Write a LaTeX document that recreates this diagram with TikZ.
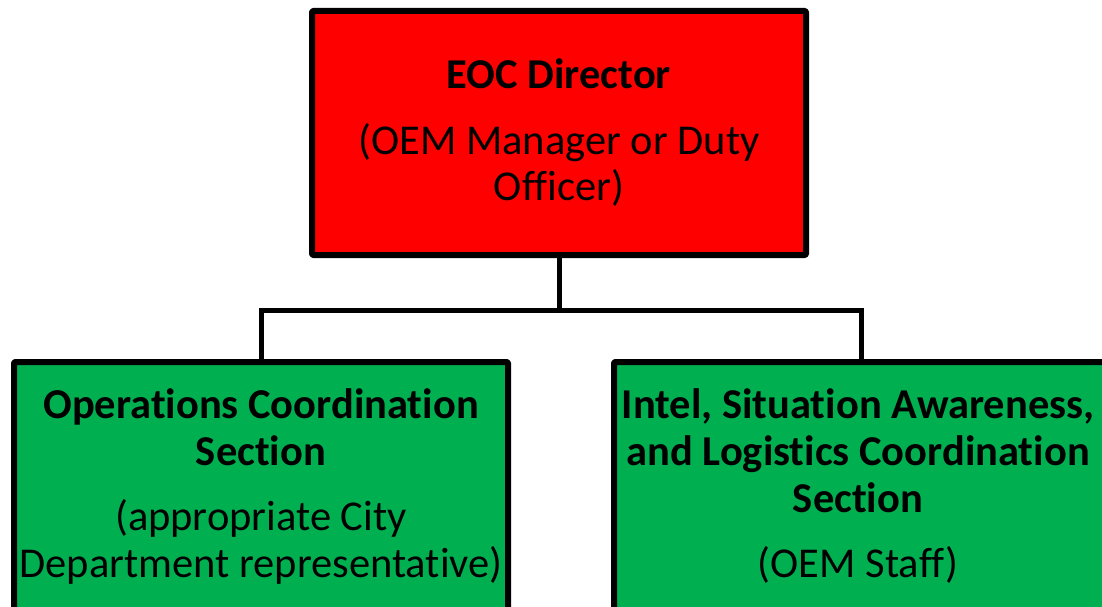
\documentclass[tikz,border=0pt]{standalone}
\usepackage{fontspec}
\setmainfont{Carlito}[Ligatures=NoCommon]
\definecolor{boxred}{HTML}{FF0000}
\definecolor{boxgreen}{HTML}{00B050}
\begin{document}
\begin{tikzpicture}[x=1pt,y=-1pt,
  box/.style={draw=black,line width=6pt,line join=round,rounded corners=1pt,inner sep=0pt,minimum width=494pt},
  lbl/.style={anchor=base,inner sep=0pt,font=\fontsize{42.5}{50}\selectfont},
  blbl/.style={lbl,font=\fontsize{42.5}{50}\selectfont\bfseries},
  conn/.style={draw=black,line width=5pt}]
\useasboundingbox (0,0) rectangle (1102,607);
\clip (0,0) rectangle (1102,607);
\node[box,fill=boxred,minimum height=244pt] (dir) at (559,133) {};
\node[box,fill=boxgreen,minimum height=300pt,anchor=north] (ops) at (261,359) {};
\node[box,fill=boxgreen,minimum height=300pt,anchor=north] (intel) at (861,359) {};
\coordinate (jn) at (559,310);
\draw[conn] (dir.south) -- (jn);
\draw[conn] (jn) -| (ops.north);
\draw[conn] (jn) -| (intel.north);
\node[blbl] (d1) at (559,89) {EOC Director};
\node[lbl] (d2) at (559,154) {(OEM Manager or Duty};
\node[lbl] (d3) at (559,200) {Officer)};
\node[blbl] (o1) at (261,418) {Operations Coordination};
\node[blbl] (o2) at (261,465) {Section};
\node[lbl] (o3) at (261,530) {(appropriate City};
\node[lbl] (o4) at (261,577) {Department representative)};
\node[blbl] (i1) at (858,418) {Intel, Situation Awareness,};
\node[blbl] (i2) at (858,465) {and Logistics Coordination};
\node[blbl] (i3) at (858,512) {Section};
\node[lbl] (i4) at (858,577) {(OEM Staff)};
\end{tikzpicture}
\end{document}
